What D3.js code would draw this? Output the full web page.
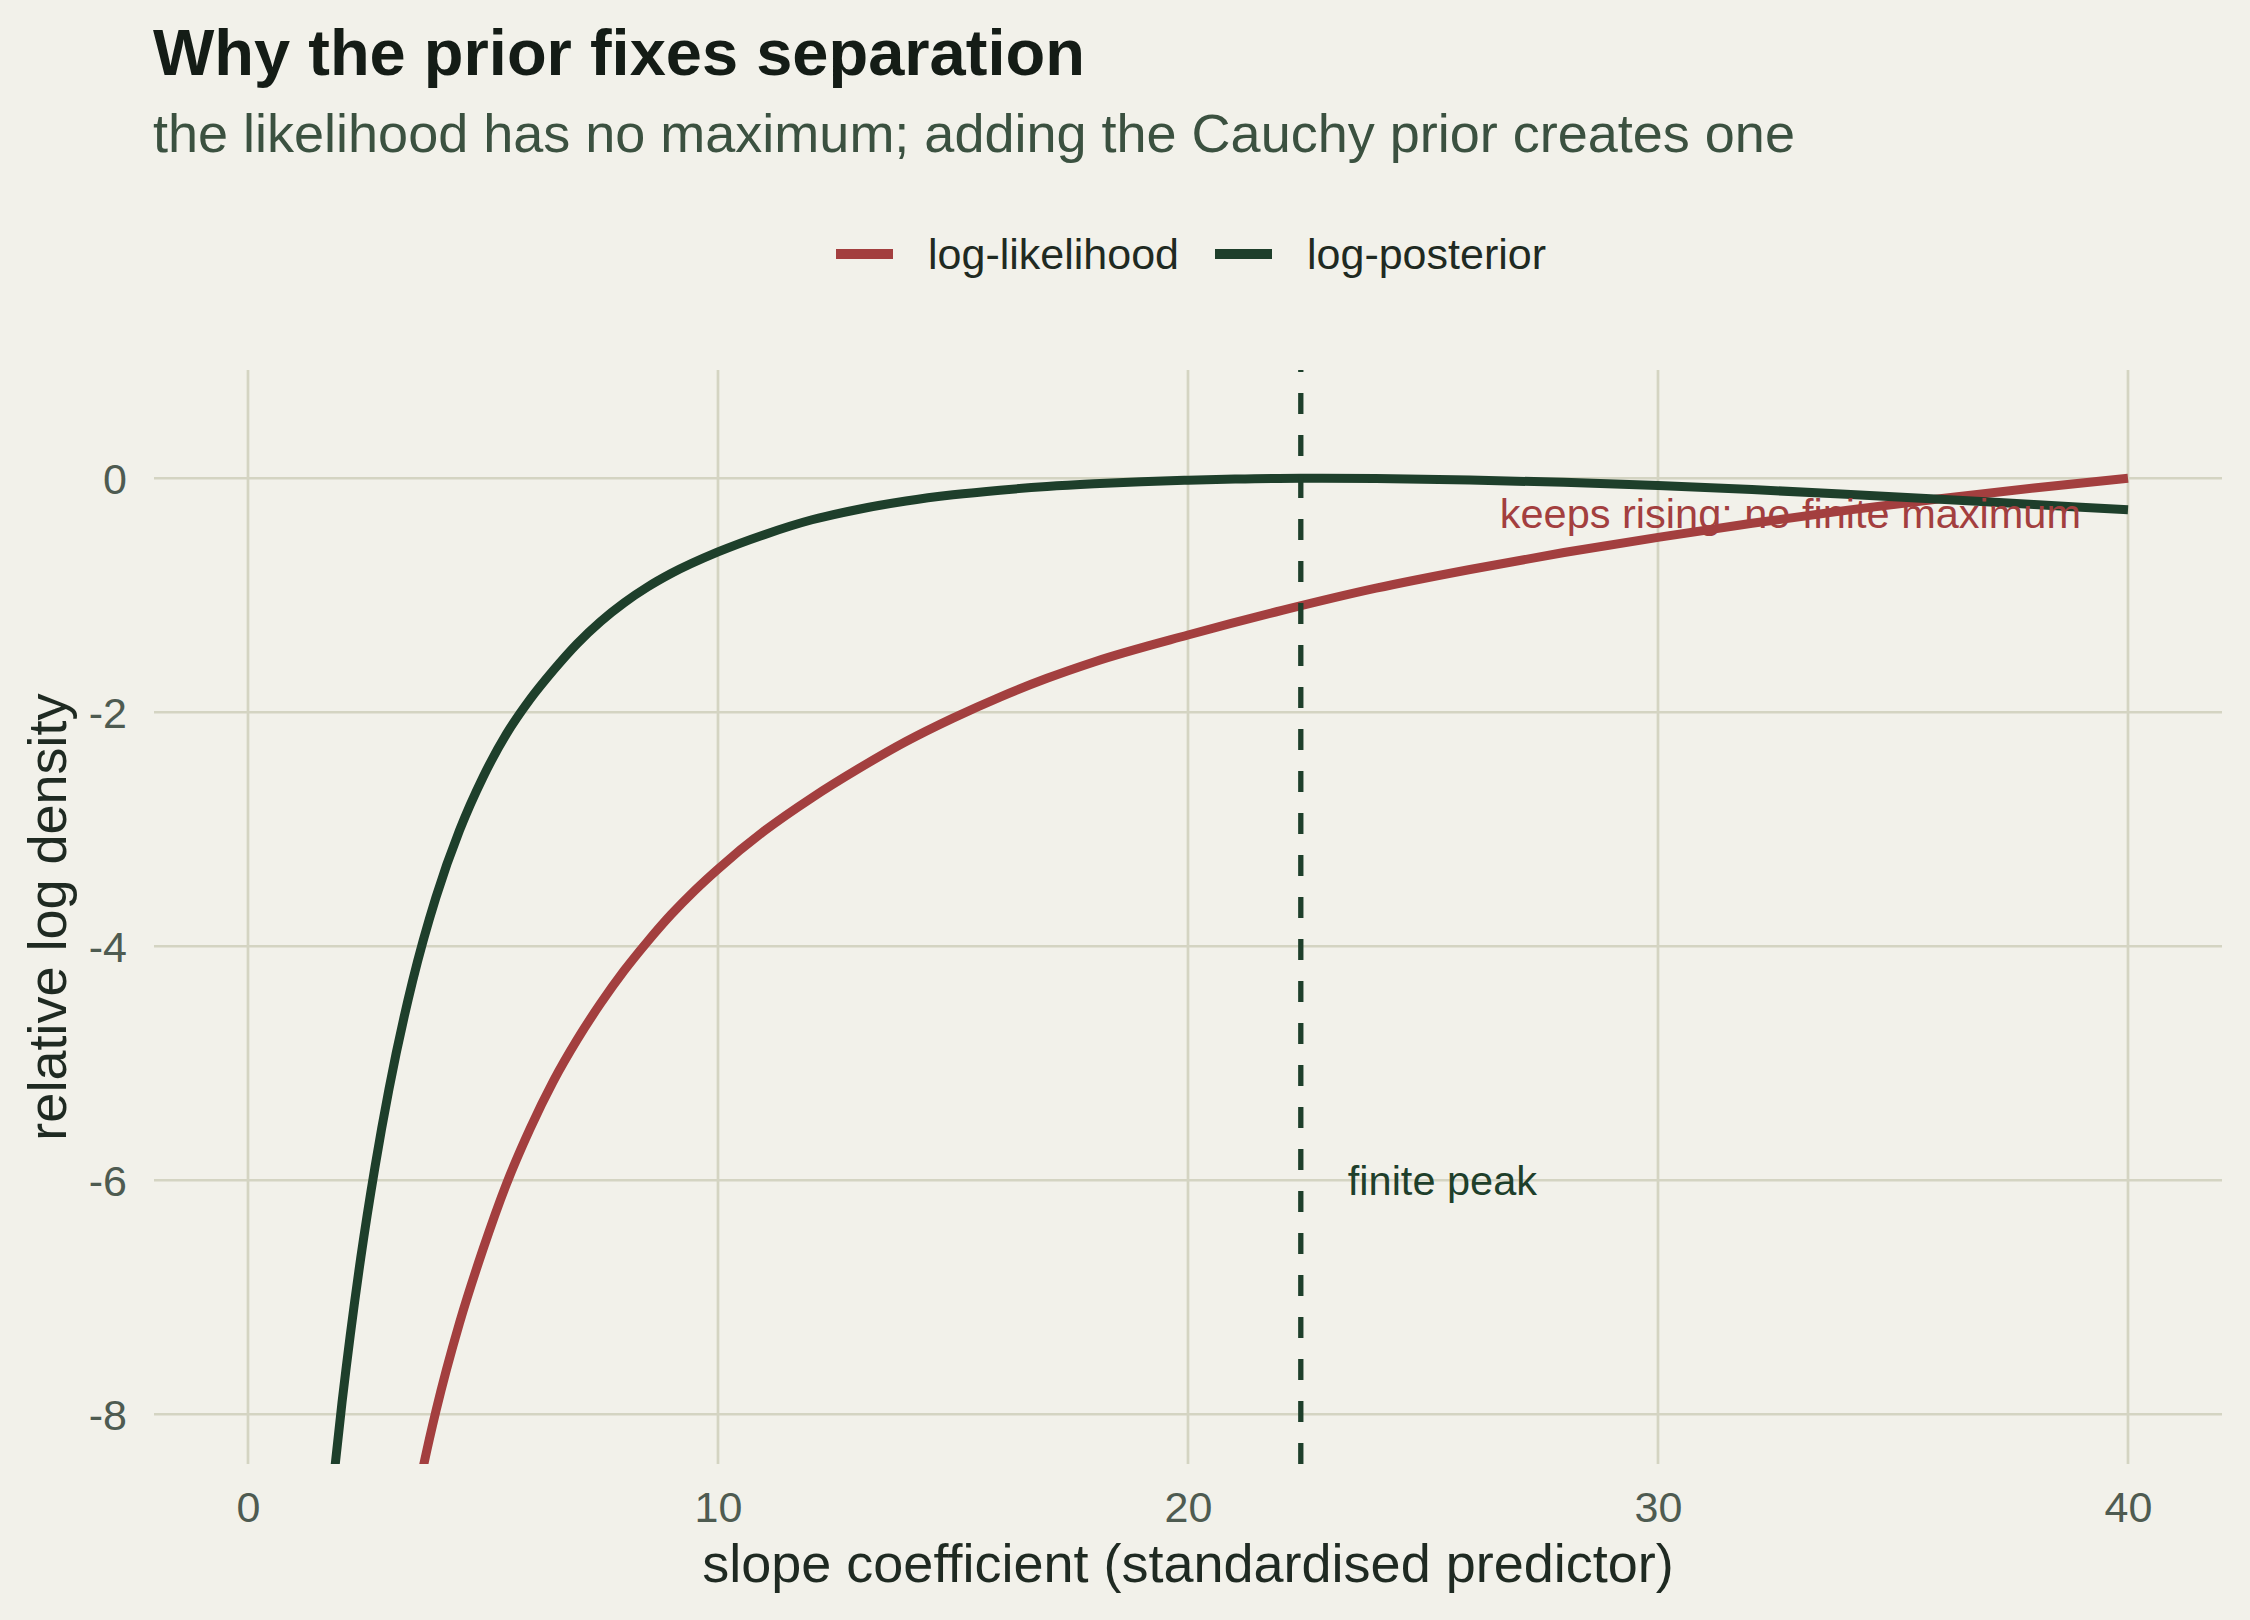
<!DOCTYPE html>
<html>
<head>
<meta charset="utf-8">
<script src="https://cdn.jsdelivr.net/npm/d3@7"></script>
<style>
  html, body { margin: 0; padding: 0; background: #f2f1ea; }
  svg { display: block; font-family: "Liberation Sans", Arial, sans-serif; }
</style>
</head>
<body>
<svg id="viz"></svg>
<script>
// values
var likSlope = [3.5, 3.75, 4.0, 4.5, 5.0, 5.5, 6.0, 6.5, 7.0, 7.5, 8.0, 8.5, 9.0, 9.5, 10, 11, 12, 13, 14, 15, 16, 17, 18, 20, 22, 24, 26, 28, 30, 32, 34, 36, 38, 40]
var likValue = [-8.91, -8.41, -7.97, -7.22, -6.59, -6.03, -5.56, -5.15, -4.80, -4.49, -4.21, -3.96, -3.73, -3.525, -3.34, -3.01, -2.73, -2.48, -2.25, -2.05, -1.87, -1.71, -1.57, -1.34, -1.13, -0.94, -0.78, -0.635, -0.505, -0.385, -0.275, -0.175, -0.083, 0]

var postSlope = [1.7, 2.0, 2.4, 2.7, 3.0, 3.5, 4.0, 4.5, 5.0, 5.5, 6.0, 6.5, 7.0, 7.5, 8.0, 8.5, 9.0, 10, 11, 12, 13, 14, 15, 16, 17, 18, 19, 20, 21, 22.4, 24, 26, 28, 30, 32, 34, 36, 38, 40]
var postValue = [-9.0, -7.9, -6.66, -5.89, -5.22, -4.30, -3.58, -3.01, -2.555, -2.185, -1.89, -1.64, -1.415, -1.225, -1.065, -0.93, -0.815, -0.63, -0.48, -0.355, -0.265, -0.195, -0.142, -0.102, -0.071, -0.048, -0.03, -0.017, -0.007, 0, -0.003, -0.015, -0.035, -0.062, -0.097, -0.137, -0.18, -0.225, -0.27]

var seriesNames = ["log-likelihood", "log-posterior"]
var seriesColors = ["#a33f3f", "#1e3f2b"]
var xTicks = [0, 10, 20, 30, 40]
var yTicks = [0, -2, -4, -6, -8]
var peakSlope = 22.4
var notes = [
    { x: 39, y: -0.3, text: "keeps rising: no finite maximum", anchor: "end", color: "#a33f3f" },
    { x: 23.4, y: -6, text: "finite peak", anchor: "start", color: "#1e3f2b" }
]

var width = 2250,
    height = 1620
var margin = { top: 370, right: 28, bottom: 156, left: 154 }

var x = d3.scaleLinear()
    .domain([-2, 42])
    .range([margin.left, width - margin.right])
var y = d3.scaleLinear()
    .domain([-8.425, 0.925])
    .range([height - margin.bottom, margin.top])

var svg = d3.select("#viz")
    .attr("width", width)
    .attr("height", height)
    .attr("viewBox", [0, 0, width, height])

svg.append("rect").attr("width", width).attr("height", height).attr("fill", "#f2f1ea")

// title block
svg.append("text")
    .attr("x", 153).attr("y", 75)
    .attr("font-size", 65).attr("font-weight", "bold").attr("fill", "#141c16")
    .text("Why the prior fixes separation")
svg.append("text")
    .attr("x", 153).attr("y", 152)
    .attr("font-size", 54).attr("fill", "#3b5140")
    .text("the likelihood has no maximum; adding the Cauchy prior creates one")

// legend
var legendX = [836, 1215]
var legend = svg.selectAll(".legend").data(seriesNames).join("g").attr("class", "legend")
    .attr("transform", (d, i) => `translate(${legendX[i]},254)`)
legend.append("line")
    .attr("x1", 0).attr("x2", 57)
    .attr("stroke", (d, i) => seriesColors[i]).attr("stroke-width", 10)
legend.append("text")
    .attr("x", 92).attr("y", 15)
    .attr("font-size", 43).attr("fill", "#1f2a22")
    .text(d => d)

// grid
var grid = svg.append("g").attr("stroke", "#d4d4c2").attr("stroke-width", 2.7)
grid.selectAll(".gx").data(xTicks).join("line").attr("class", "gx")
    .attr("x1", d => x(d)).attr("x2", d => x(d))
    .attr("y1", y.range()[1]).attr("y2", y.range()[0])
grid.selectAll(".gy").data(yTicks).join("line").attr("class", "gy")
    .attr("x1", x.range()[0]).attr("x2", x.range()[1])
    .attr("y1", d => y(d)).attr("y2", d => y(d))

// axes, only the labels are shown
var xAxis = g => g
    .attr("transform", `translate(0,${height - margin.bottom})`)
    .call(d3.axisBottom(x).tickValues(xTicks).tickFormat(d => String(d)).tickSize(0).tickPadding(58))
var yAxis = g => g
    .attr("transform", `translate(${margin.left},0)`)
    .call(d3.axisLeft(y).tickValues(yTicks).tickFormat(d => String(d)).tickSize(0).tickPadding(27))

svg.append("g").attr("class", "xaxis").call(xAxis)
svg.append("g").attr("class", "yaxis").call(yAxis)
svg.selectAll(".xaxis .domain, .yaxis .domain").remove()
svg.selectAll(".xaxis text, .yaxis text")
    .attr("font-size", 43).attr("fill", "#4e5b51").attr("font-family", "Liberation Sans, Arial, sans-serif")
svg.selectAll(".xaxis text").attr("dy", 0)
svg.selectAll(".yaxis text").attr("dy", "0.36em")

svg.append("text")
    .attr("x", (x.range()[0] + x.range()[1]) / 2).attr("y", 1582)
    .attr("text-anchor", "middle").attr("font-size", 54).attr("fill", "#1f2a22")
    .text("slope coefficient (standardised predictor)")
svg.append("text")
    .attr("transform", `translate(66,${(y.range()[0] + y.range()[1]) / 2}) rotate(-90)`)
    .attr("text-anchor", "middle").attr("font-size", 54).attr("fill", "#1f2a22")
    .text("relative log density")

// panel clip
svg.append("clipPath").attr("id", "panel")
    .append("rect")
    .attr("x", x.range()[0]).attr("y", y.range()[1])
    .attr("width", x.range()[1] - x.range()[0])
    .attr("height", y.range()[0] - y.range()[1])

var plot = svg.append("g").attr("clip-path", "url(#panel)")

var line = d3.line()
    .x(d => x(d[0]))
    .y(d => y(d[1]))
    .curve(d3.curveMonotoneX)

var series = [
    d3.zip(likSlope, likValue),
    d3.zip(postSlope, postValue)
]

plot.selectAll(".curve").data(series).join("path").attr("class", "curve")
    .attr("d", line)
    .attr("fill", "none")
    .attr("stroke", (d, i) => seriesColors[i])
    .attr("stroke-width", 9)
    .attr("stroke-linejoin", "round")

// posterior peak, dashes start from the bottom like the original
plot.append("line")
    .attr("x1", x(peakSlope)).attr("x2", x(peakSlope))
    .attr("y1", y.range()[0]).attr("y2", y.range()[1])
    .attr("stroke", "#1e3f2b").attr("stroke-width", 5.3)
    .attr("stroke-dasharray", "21 21")

svg.selectAll(".note").data(notes).join("text").attr("class", "note")
    .attr("x", d => x(d.x)).attr("y", d => y(d.y))
    .attr("dy", "0.36em")
    .attr("text-anchor", d => d.anchor)
    .attr("font-size", 41.5)
    .attr("fill", d => d.color)
    .text(d => d.text)
</script>
</body>
</html>
